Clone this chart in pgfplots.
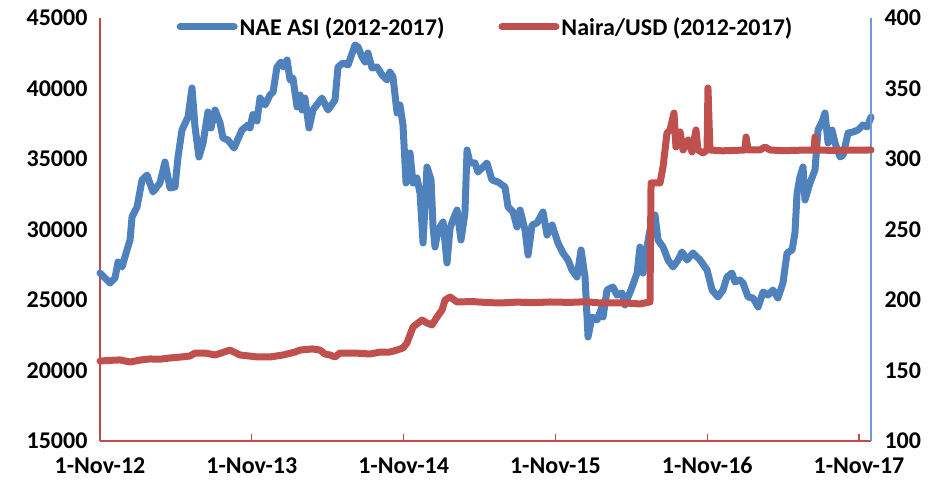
\documentclass[border=0pt]{standalone}
\usepackage{fontspec}
\setmainfont{Carlito}
\usepackage{pgfplots}
\pgfplotsset{compat=1.18}
\definecolor{nblue}{RGB}{79,129,189}
\definecolor{nred}{RGB}{192,80,77}
\definecolor{spinered}{RGB}{190,75,72}
\definecolor{spineblue}{RGB}{110,155,215}
\newcommand\lbl{\fontsize{24}{28}\selectfont\bfseries}
\begin{document}
\begin{tikzpicture}
\path[use as bounding box] (-100pt,-42pt) rectangle (833pt,441pt);
\begin{axis}[
  at={(0,0)}, anchor=south west, scale only axis,
  width=771pt, height=423pt,
  xmin=0, xmax=5.079, ymin=15000, ymax=45000,
  axis x line*=bottom, axis y line*=left,
  axis line style={-, line width=1.3pt},
  x axis line style={draw=spinered},
  y axis line style={draw=spinered},
  xtick={0,1,2,3,4,5},
  xticklabels={1-Nov-12,1-Nov-13,1-Nov-14,1-Nov-15,1-Nov-16,1-Nov-17},
  ytick={15000,20000,25000,30000,35000,40000,45000},
  yticklabels={15000,20000,25000,30000,35000,40000,45000},
  scaled y ticks=false,
  xtick align=inside, major tick length=7pt,
  xtick style={draw=spinered, line width=1.3pt},
  ytick style={draw=none},
  tick label style={font=\lbl, text=black},
  yticklabel style={xshift=-9pt},
  xticklabel style={yshift=-13pt},
  legend style={at={(0.5,1)}, anchor=north, draw=none, fill=none,
    font=\lbl, legend columns=2, /tikz/every even column/.append style={column sep=52pt},
    yshift=5pt},
  legend image code/.code={\draw[#1] (0pt,0pt) -- (54pt,0pt);},
  clip=false
]
\addplot[nblue, line width=7pt, line cap=round, line join=round] table {
0.000 26915
0.066 26206
0.099 26561
0.119 27696
0.145 27341
0.178 28547
0.198 29256
0.211 30887
0.244 31596
0.277 33511
0.310 33866
0.349 32660
0.395 33298
0.428 34788
0.461 32944
0.494 33015
0.514 35142
0.540 37057
0.580 37979
0.606 40036
0.626 37270
0.652 35142
0.679 36135
0.711 38334
0.731 37199
0.758 38475
0.791 37553
0.810 36490
0.843 36348
0.883 35780
0.935 37057
0.975 37412
0.988 37200
1.007 38150
1.034 37700
1.054 39326
1.087 38830
1.120 39539
1.140 39752
1.166 41525
1.192 41880
1.206 41525
1.232 42021
1.252 40603
1.271 40745
1.298 38688
1.318 39539
1.331 38475
1.350 39326
1.377 37199
1.403 38475
1.462 39326
1.502 38475
1.548 39185
1.568 41525
1.601 41809
1.634 41667
1.680 43085
1.700 42943
1.726 42234
1.746 41880
1.765 42518
1.792 41454
1.825 41525
1.858 40958
1.891 40603
1.910 41170
1.930 40816
1.957 38263
1.976 38830
1.996 37412
2.016 33298
2.042 35426
2.062 33298
2.088 33653
2.108 32589
2.128 29043
2.154 34433
2.181 33511
2.194 30178
2.207 28759
2.227 29965
2.260 30532
2.286 27625
2.306 30107
2.325 30674
2.352 31383
2.378 29256
2.404 31171
2.418 35639
2.437 34717
2.470 34717
2.490 34078
2.523 34433
2.549 34717
2.582 33511
2.622 33369
2.668 33015
2.688 31596
2.721 31242
2.747 30178
2.767 31383
2.800 29965
2.820 28192
2.846 30320
2.879 30461
2.918 31242
2.945 29610
2.978 30320
3.017 29043
3.050 28334
3.083 27837
3.109 27128
3.142 26632
3.169 28547
3.195 26632
3.215 22377
3.241 23795
3.274 23582
3.307 24504
3.314 23795
3.340 25710
3.379 25923
3.406 25355
3.439 25497
3.458 24646
3.505 25923
3.538 26915
3.557 28759
3.577 26915
3.603 28759
3.623 29965
3.656 31029
3.676 29256
3.709 28759
3.742 27837
3.775 27341
3.808 27837
3.834 28405
3.867 27837
3.906 28334
3.953 27837
3.999 27128
4.032 25710
4.071 25213
4.104 25710
4.130 26632
4.163 26915
4.183 26277
4.216 26419
4.236 26206
4.269 25213
4.302 25142
4.335 24504
4.368 25568
4.401 25355
4.433 25710
4.466 25142
4.499 26206
4.526 28334
4.559 28547
4.578 29752
4.592 32589
4.611 33724
4.631 34433
4.644 32093
4.677 33298
4.710 34220
4.730 37057
4.756 37624
4.776 38263
4.796 36135
4.822 37057
4.842 36135
4.875 35142
4.895 35284
4.928 36844
4.960 36915
4.993 37057
5.026 37412
5.053 37270
5.079 37979
};
\addlegendentry{NAE ASI (2012-2017)}
\addlegendimage{nred, line width=7pt, line cap=round}
\addlegendentry{Naira/USD (2012-2017)}
\end{axis}
\begin{axis}[
  at={(0,0)}, anchor=south west, scale only axis,
  width=771pt, height=423pt,
  xmin=0, xmax=5.079, ymin=100, ymax=400,
  axis x line=none, axis y line*=right,
  axis line style={-, line width=1.3pt},
  y axis line style={draw=spineblue},
  ytick={100,150,200,250,300,350,400},
  yticklabels={100,150,200,250,300,350,400},
  ytick style={draw=none},
  tick label style={font=\lbl, text=black},
  yticklabel style={xshift=10pt},
  clip=false
]
\addplot[nred, line width=7pt, line cap=round, line join=round] table {
0.000 156.7
0.066 157.2
0.132 157.5
0.198 156.0
0.264 157.4
0.329 158.2
0.395 158.0
0.461 158.9
0.527 159.5
0.593 160.3
0.626 162.4
0.692 162.4
0.758 161.0
0.856 164.5
0.922 161.0
1.041 159.6
1.120 159.6
1.206 161.0
1.285 163.1
1.318 164.5
1.397 165.3
1.449 164.5
1.482 161.7
1.515 161.0
1.548 159.6
1.581 162.4
1.680 162.4
1.779 161.7
1.845 163.1
1.910 163.1
1.957 164.5
1.996 166.0
2.022 169.5
2.062 180.9
2.095 183.7
2.121 185.8
2.154 183.7
2.187 182.3
2.220 187.9
2.253 192.9
2.273 200.0
2.306 202.1
2.352 198.6
2.450 198.9
2.550 198.2
2.635 197.9
2.750 198.5
2.850 198.1
2.964 198.6
3.100 198.3
3.200 198.8
3.294 197.9
3.450 198.0
3.557 197.2
3.623 198.6
3.630 283.0
3.689 283.0
3.709 294.3
3.735 318.4
3.755 320.6
3.781 332.6
3.794 308.5
3.821 319.2
3.841 306.4
3.874 313.5
3.900 305.0
3.926 320.6
3.939 306.4
3.972 304.3
3.999 306.4
4.005 350.4
4.018 306.4
4.100 305.8
4.180 306.1
4.249 306.4
4.256 315.6
4.269 306.4
4.348 306.4
4.381 308.5
4.414 306.4
4.500 305.9
4.600 306.2
4.704 306.4
4.710 315.6
4.723 306.4
4.850 306.0
4.950 306.3
5.079 306.4
};
\end{axis}
\end{tikzpicture}
\end{document}
